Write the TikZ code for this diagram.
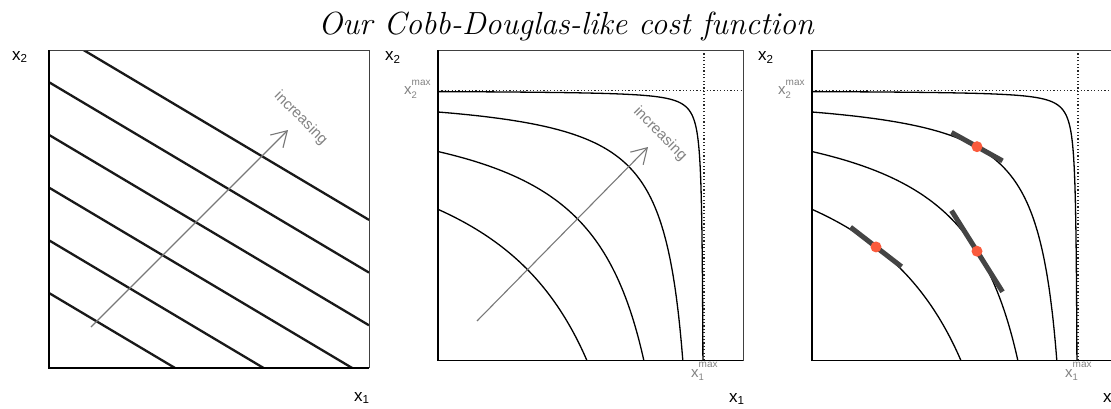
\documentclass[tikz,border=0pt]{standalone}
\usepackage{fontspec}
\setsansfont{Liberation Sans}
\usetikzlibrary{arrows.meta}
\definecolor{dotred}{RGB}{250,90,60}
\definecolor{lblgray}{RGB}{130,130,130}
\definecolor{arrgray}{RGB}{120,120,120}
\definecolor{tangray}{RGB}{68,68,68}
\newcommand{\axlab}[1]{x\raisebox{-2.6pt}{\fontsize{11.6}{12}\selectfont #1}}
\newcommand{\maxlab}[1]{x\rlap{\raisebox{9.5pt}{\fontsize{10}{10}\selectfont max}}\raisebox{-3.3pt}{\fontsize{9.5}{10}\selectfont #1}}
\tikzset{
  axisline/.style={line width=1.8pt, black},
  frameline/.style={line width=0.9pt, black!75},
  isoline/.style={line width=2.3pt, black!90},
  curveline/.style={line width=1.3pt, black},
  maxline/.style={line width=1.2pt, black!85, dash pattern=on 1.1pt off 2.3pt},
  incarrow/.style={line width=1.1pt, arrgray, -{Straight Barb[length=15pt,width=18pt,line width=1.1pt]}},
  inclabel/.style={text=lblgray, font=\sffamily\fontsize{15}{15}\selectfont, rotate=-45, inner sep=0pt},
  axislabel/.style={font=\sffamily\fontsize{17}{17}\selectfont, anchor=base west, inner sep=0pt},
  maxlabel/.style={text=lblgray, font=\sffamily\fontsize{15}{15}\selectfont, anchor=base west, inner sep=0pt},
  tangent/.style={line width=5pt, tangray},
  optdot/.style={circle, fill=dotred, minimum size=11pt, inner sep=0pt},
}
\begin{document}
\begin{tikzpicture}[x=1pt,y=1pt]
\useasboundingbox (0,0) rectangle (1111,408);

% title
\node[anchor=base, inner sep=0pt, font=\fontsize{32}{38}\selectfont\itshape] (title) at (566,373) {Our Cobb-Douglas-like cost function};

% ---------- panel 1 ----------
\begin{scope}
  \clip (49,40) rectangle (369,357.5);
  \foreach \c in {75,127.7,180.4,233.1,285.8,338.5} {
    \draw[isoline] (49,{40+\c}) -- (369,{40+\c-0.595*320});
  }
\end{scope}
\draw[frameline] (49,357.5) -- (369,357.5) -- (369,40);
\draw[axisline] (49,357.5) -- (49,40) -- (369,40);
\coordinate (a1s) at (91,81);
\coordinate (a1e) at (288,278);
\draw[incarrow] (a1s) -- (a1e);
\node[inclabel] (inc1) at (300.7,289.7) {increasing};
\node[axislabel] (p1x2) at (12,348) {\axlab{2}};
\node[axislabel] (p1x1) at (354,7) {\axlab{1}};

% ---------- panel 2 ----------
\begin{scope}[shift={(438,47.5)}]
  \foreach \k in {0.44,0.226,0.079,0.004} {
    \draw[curveline] plot[domain=0:1, samples=160, variable=\t]
      ({266*(1-exp(\t*ln(\k)))}, {270*(1-exp((1-\t)*ln(\k)))});
  }
  \draw[maxline] (266,0) -- (266,310);
  \draw[maxline] (0,270) -- (305,270);
  \draw[frameline] (0,310) -- (305,310) -- (305,0);
  \draw[axisline] (0,310) -- (0,0) -- (305,0);
\end{scope}
\coordinate (a2s) at (477,87);
\coordinate (a2e) at (648,261);
\draw[incarrow] (a2s) -- (a2e);
\node[inclabel] (inc2) at (660,274) {increasing};
\node[axislabel] (p2x2) at (385,347) {\axlab{2}};
\node[axislabel] (p2x1) at (729,6) {\axlab{1}};
\node[maxlabel] (p2m2) at (404,313) {\maxlab{2}};
\node[maxlabel] (p2m1) at (691,31) {\maxlab{1}};

% ---------- panel 3 ----------
\begin{scope}[shift={(812,47.5)}]
  \foreach \k in {0.44,0.226,0.079,0.004} {
    \draw[curveline] plot[domain=0:1, samples=160, variable=\t]
      ({266*(1-exp(\t*ln(\k)))}, {270*(1-exp((1-\t)*ln(\k)))});
  }
  \draw[maxline] (266,0) -- (266,310);
  \draw[maxline] (0,270) -- (305,270);
  \draw[frameline] (0,310) -- (305,310) -- (305,0);
  \draw[axisline] (0,310) -- (0,0) -- (305,0);
  \foreach \k/\u/\n in {0.079/165/A, 0.44/64/B, 0.226/165/C} {
    \pgfmathsetmacro\s{1-\u/266}
    \pgfmathsetmacro\v{270*(1-\k/\s)}
    \pgfmathsetmacro\m{-270*\k/(266*\s*\s)}
    \draw[tangent] ({\u-25.5},{\v-25.5*\m}) -- ({\u+25.5},{\v+25.5*\m});
    \node[optdot] (dot\n) at (\u,\v) {};
  }
\end{scope}
\node[axislabel] (p3x2) at (758,347) {\axlab{2}};
\node[axislabel] (p3x1) at (1103,6) {\axlab{1}};
\node[maxlabel] (p3m2) at (778,313) {\maxlab{2}};
\node[maxlabel] (p3m1) at (1065,31) {\maxlab{1}};
\end{tikzpicture}
\end{document}
